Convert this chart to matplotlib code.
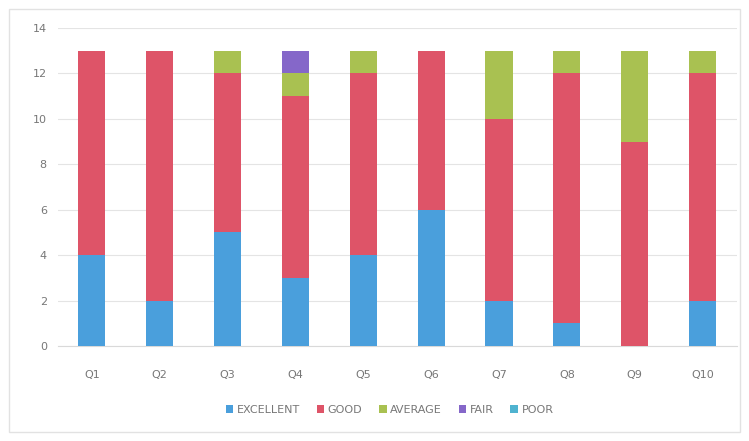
import matplotlib
matplotlib.use("Agg")
import matplotlib.pyplot as plt
import numpy as np

categories = ["Q1", "Q2", "Q3", "Q4", "Q5", "Q6", "Q7", "Q8", "Q9", "Q10"]
excellent = [4, 2, 5, 3, 4, 6, 2, 1, 0, 2]
good = [9, 11, 7, 8, 8, 7, 8, 11, 9, 10]
average = [0, 0, 1, 1, 1, 0, 3, 1, 4, 1]
fair = [0, 0, 0, 1, 0, 0, 0, 0, 0, 0]
poor = [0, 0, 0, 0, 0, 0, 0, 0, 0, 0]
series_names = ["EXCELLENT", "GOOD", "AVERAGE", "FAIR", "POOR"]
yticks = [0, 2, 4, 6, 8, 10, 12, 14]

colors = ["#4a9fdc", "#de5468", "#a9c151", "#8567c9", "#4fb3d0"]

fig = plt.figure(figsize=(7.49, 4.41), dpi=100)
fig.patch.set_facecolor("white")
# outer chart border
border = plt.Rectangle((0.012, 0.02), 0.976, 0.96, transform=fig.transFigure,
                       fill=False, edgecolor="#e2e2e2", linewidth=1)
fig.add_artist(border)

ax = fig.add_axes([0.0774, 0.2154, 0.906, 0.721])
x = np.arange(len(categories))
bottom = np.zeros(len(categories))
handles = []
for name, vals, c in zip(series_names, [excellent, good, average, fair, poor], colors):
    vals = np.array(vals, dtype=float)
    h = ax.bar(x, vals, bottom=bottom, width=0.4, color=c, label=name, zorder=3)
    handles.append(h)
    bottom += vals

ax.set_xlim(-0.5, len(categories) - 0.5)
ax.set_ylim(0, 14)
ax.set_yticks(yticks)
ax.set_yticklabels([str(t) for t in yticks], color="#777777", fontsize=8)
ax.set_xticks(x)
ax.set_xticklabels(categories, color="#777777", fontsize=8)
ax.tick_params(axis="both", length=0)
ax.tick_params(axis="x", pad=17)
ax.tick_params(axis="y", pad=8)
ax.grid(axis="y", color="#e4e4e4", linewidth=0.8, zorder=0)
for s in ["top", "right", "left"]:
    ax.spines[s].set_visible(False)
ax.spines["bottom"].set_color("#d9d9d9")

fig.legend(handles=handles, labels=series_names, loc="center", bbox_to_anchor=(0.52, 0.07),
           ncol=5, frameon=False, fontsize=8, labelcolor="#777777",
           handlelength=0.7, handleheight=0.7, handletextpad=0.3, columnspacing=1.5)

fig.savefig("out.png", dpi=100)
